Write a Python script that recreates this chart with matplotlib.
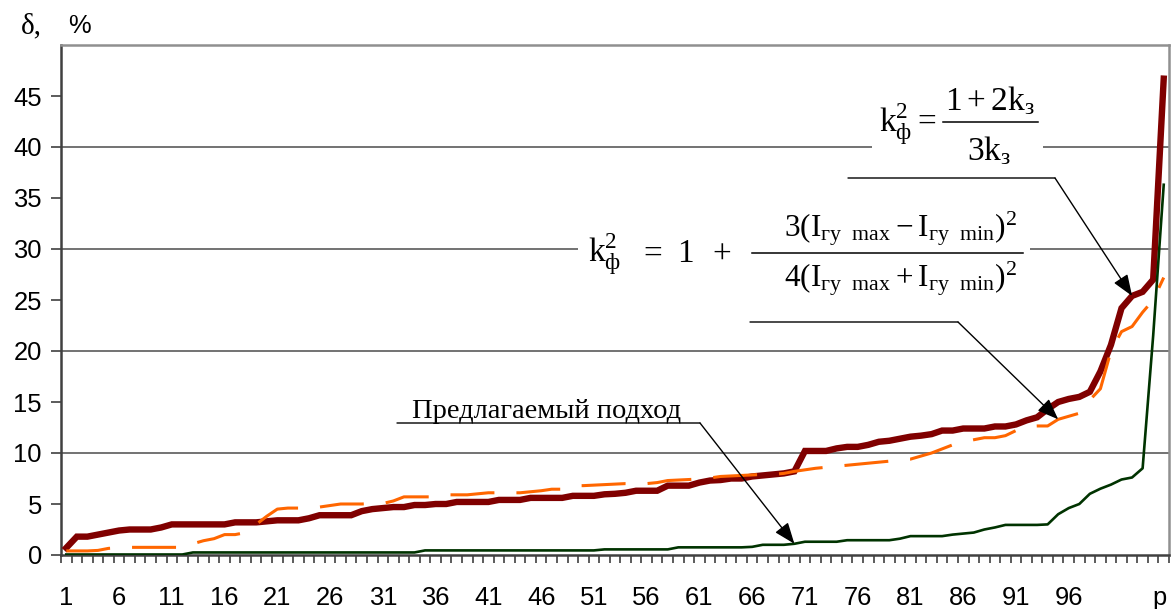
import matplotlib
matplotlib.use('Agg')
import matplotlib.pyplot as plt
from matplotlib.lines import Line2D
from matplotlib.patches import Rectangle
from matplotlib.transforms import IdentityTransform
import numpy as np

plt.rcParams['font.family'] = ['Liberation Sans', 'DejaVu Sans']
plt.rcParams['mathtext.fontset'] = 'custom'
plt.rcParams['mathtext.rm'] = 'Liberation Serif'
plt.rcParams['mathtext.it'] = 'Liberation Serif'
plt.rcParams['mathtext.bf'] = 'Liberation Serif:bold'

# p = 1..105
red = [
    0.7, 1.8, 1.8, 2.0, 2.2, 2.4, 2.5, 2.5, 2.5, 2.7,
    3.0, 3.0, 3.0, 3.0, 3.0, 3.0, 3.2, 3.2, 3.2, 3.3,
    3.4, 3.4, 3.4, 3.6, 3.9, 3.9, 3.9, 3.9, 4.3, 4.5,
    4.6, 4.7, 4.7, 4.9, 4.9, 5.0, 5.0, 5.2, 5.2, 5.2,
    5.2, 5.4, 5.4, 5.4, 5.6, 5.6, 5.6, 5.6, 5.8, 5.8,
    5.8, 5.95, 6.0, 6.1, 6.3, 6.3, 6.3, 6.8, 6.8, 6.8,
    7.1, 7.3, 7.35, 7.5, 7.5, 7.7, 7.8, 7.9, 8.0, 8.2,
    10.2, 10.2, 10.2, 10.45, 10.6, 10.6, 10.8, 11.1, 11.2, 11.4,
    11.6, 11.7, 11.85, 12.2, 12.2, 12.4, 12.4, 12.4, 12.6, 12.6,
    12.8, 13.2, 13.5, 14.3, 15.0, 15.3, 15.5, 16.0, 18.0, 20.6,
    24.2, 25.4, 25.8, 27.0, 46.7]

orange = [
    0.4, 0.4, 0.4, 0.45, 0.65, 0.7, 0.75, 0.75, 0.75, 0.75,
    0.75, 0.75, 1.1, 1.4, 1.6, 2.0, 2.0, 2.2, 3.0, 3.8,
    4.5, 4.6, 4.6, 4.6, 4.7, 4.85, 5.0, 5.0, 5.0, 5.05,
    5.05, 5.3, 5.7, 5.7, 5.7, 5.7, 5.9, 5.9, 5.9, 6.0,
    6.1, 6.1, 6.1, 6.1, 6.2, 6.3, 6.45, 6.45, 6.8, 6.8,
    6.85, 6.9, 6.95, 7.0, 7.0, 7.0, 7.1, 7.3, 7.35, 7.4,
    7.45, 7.55, 7.7, 7.75, 7.8, 7.85, 7.9, 7.9, 8.0, 8.2,
    8.35, 8.5, 8.6, 8.7, 8.8, 8.9, 9.0, 9.1, 9.2, 9.4,
    9.4, 9.7, 10.0, 10.4, 10.8, 11.1, 11.3, 11.5, 11.5, 11.7,
    12.2, 12.6, 12.65, 12.65, 13.3, 13.6, 13.9, 15.2, 16.3, 20.0,
    21.9, 22.4, 23.8, 25.0, 27.2]

green = (
    [0.05] * 12 + [0.25] * 22 + [0.45] * 17 + [0.55] * 7 + [0.75] * 7 +
    [0.8, 1.0, 1.0, 1.0, 1.1, 1.3, 1.3, 1.3, 1.3,
     1.45, 1.45, 1.45, 1.45, 1.45, 1.6, 1.85, 1.85, 1.85, 1.85,
     2.0, 2.1, 2.2, 2.5, 2.7, 2.95, 2.95, 2.95, 2.95, 3.0,
     4.0, 4.6, 5.0, 6.0, 6.5, 6.9, 7.4, 7.6, 8.5, 21.5, 36.3])

p = np.arange(1, len(red) + 1)
label_pos = list(range(1, 97, 5))
label_txt = [str(v) for v in label_pos]

H = 609
fig = plt.figure(figsize=(11.71, 6.09), dpi=100)
ax = fig.add_axes([61 / 1171, 1 - 555 / H, 1108 / 1171, 510 / H])
px = IdentityTransform()

for y in (10, 20, 30, 40):
    ax.axhline(y, color='#5a5a5a', lw=1.2, zorder=0)

ax.plot(p, red, color='#800000', lw=4.6, solid_joinstyle='miter', zorder=3)
ax.plot(p, orange, color='#ff6600', lw=2.2, dashes=(14.4, 7.2), zorder=4)
ax.plot(p, green, color='#003300', lw=1.9, zorder=5)

ax.set_xlim(0.5, len(red) + 0.5)
ax.set_ylim(0, 50)
ax.set_yticks(range(0, 50, 5))
ax.tick_params(axis='y', length=7.2, width=1.2, pad=6.5, labelsize=18.4, color='#404040')
ax.set_xticks(np.arange(0.5, len(red) + 1))
ax.set_xticklabels([])
ax.set_xticks(label_pos + [104.6], minor=True)
ax.set_xticklabels(label_txt + ['p'], minor=True)
ax.tick_params(axis='x', which='major', length=6, width=1.1, color='#303030')
ax.tick_params(axis='x', which='minor', length=0, pad=22, labelsize=18.4)

for s in ('left', 'bottom'):
    ax.spines[s].set_color('#404040')
    ax.spines[s].set_linewidth(1.8)
for s in ('top', 'right'):
    ax.spines[s].set_color('#909090')
    ax.spines[s].set_linewidth(1.8)

fig.text(31, H - 26, 'δ,', transform=px, ha='center', va='center',
         fontsize=21, family='Liberation Serif')
fig.text(79, H - 26, '%', transform=px, ha='center', va='center', fontsize=18.4)


def bar(x0, x1, y):
    fig.add_artist(Line2D([x0, x1], [H - y, H - y], color='black', lw=1.1,
                          transform=px, zorder=8))


def blank(x0, x1, y0, y1):
    fig.add_artist(Rectangle((x0, H - y1), x1 - x0, y1 - y0, facecolor='white',
                             edgecolor='none', transform=px, zorder=6))


def mtext(x, y, s, size, ha='center'):
    fig.text(x, H - y, s, transform=px, ha=ha, va='baseline', fontsize=size, zorder=8)


# formula 1
blank(872, 1043, 80, 172)
mtext(936, 132, r'$\mathrm{k_{ф}^{2}=}$', 24, ha='right')
mtext(990, 110, r'$\mathrm{1+2k_{з}}$', 24)
bar(943, 1038, 121.7)
mtext(989, 160, r'$\mathrm{3k_{з}}$', 24)

# formula 2
blank(578, 1030, 205, 298)
mtext(588, 262, r'$\mathrm{k_{ф}^{2}}$', 24, ha='left')
mtext(650, 262, r'$\mathrm{=}$', 24)
mtext(685, 262, r'$\mathrm{1}$', 24)
mtext(722, 262, r'$\mathrm{+}$', 24)
mtext(900, 237, r'$\mathrm{3(I_{гу\ \ max}-I_{гу\ \ min})^{2}}$', 22.5)
bar(752, 1023, 253)
mtext(900, 287, r'$\mathrm{4(I_{гу\ \ max}+I_{гу\ \ min})^{2}}$', 22.5)

fig.text(412, H - 418, 'Предлагаемый подход', transform=px, ha='left',
         va='baseline', fontsize=20.5, family='Liberation Serif')

head = dict(arrowstyle='-|>,head_length=0.65,head_width=0.25', mutation_scale=20,
            color='black', lw=1.0, shrinkA=0, shrinkB=0)
flat = dict(arrowstyle='-', color='black', lw=1.0, shrinkA=0, shrinkB=0)

ax.annotate('', xy=(397, H - 423), xytext=(700, H - 423),
            xycoords='figure pixels', textcoords='figure pixels', arrowprops=flat)
ax.annotate('', xy=(70, green[69]), xytext=(700, H - 423),
            xycoords='data', textcoords='figure pixels', arrowprops=head, zorder=7)

ax.annotate('', xy=(848, H - 178), xytext=(1055, H - 178),
            xycoords='figure pixels', textcoords='figure pixels', arrowprops=flat)
ax.annotate('', xy=(102, red[101]), xytext=(1055, H - 178),
            xycoords='data', textcoords='figure pixels', arrowprops=head, zorder=7)

ax.annotate('', xy=(750, H - 322), xytext=(958, H - 322),
            xycoords='figure pixels', textcoords='figure pixels', arrowprops=flat)
ax.annotate('', xy=(95, orange[94]), xytext=(958, H - 322),
            xycoords='data', textcoords='figure pixels', arrowprops=head, zorder=7)

fig.savefig('out.png', dpi=100)
